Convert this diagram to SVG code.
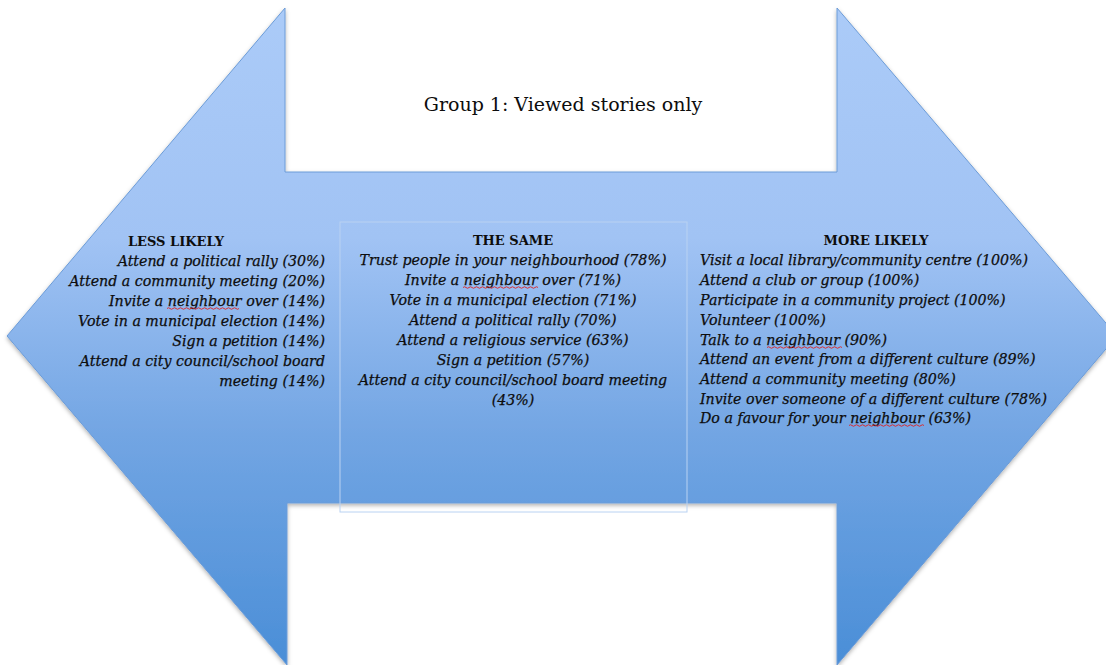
<svg xmlns="http://www.w3.org/2000/svg" width="1106" height="665" viewBox="0 0 1106 665">
  <style>
    .t { font-family: "DejaVu Serif", "Liberation Serif", serif; fill: #0d0d0d; }
    .it { font-style: italic; font-size: 14.2px; stroke: #0d0d0d; stroke-width: 0.25; }
    .hd { font-weight: bold; font-size: 13px; }
    .title { font-size: 19px; }
    .sq { fill: none; stroke: #e02020; stroke-width: 0.9; }
  </style>
  <defs>
    <linearGradient id="g" x1="0" y1="8" x2="0" y2="665" gradientUnits="userSpaceOnUse">
      <stop offset="0" stop-color="#abcbf8"/>
      <stop offset="0.35" stop-color="#a1c3f4"/>
      <stop offset="0.65" stop-color="#72a5e3"/>
      <stop offset="1" stop-color="#4a8ed7"/>
    </linearGradient>
    <filter id="sh" x="-5%" y="-5%" width="110%" height="110%">
      <feDropShadow dx="0" dy="2" stdDeviation="2" flood-color="#000" flood-opacity="0.3"/>
    </filter>
  </defs>
  <rect width="1106" height="665" fill="#ffffff"/>

  <g id="arrow">
    <path d="M285,8 L285,172 L837,172 L837,8 L1117,336 L837,665 L837,503 L287,503 L287,665 L7,336 Z" fill="url(#g)" stroke="#6c9cd8" stroke-width="1" filter="url(#sh)"/>
  </g>

  <g id="title">
    <text class="t title" x="563" y="111" text-anchor="middle">Group 1: Viewed stories only</text>
  </g>

  <g id="less-likely">
    <text class="t hd" x="176" y="246" text-anchor="middle">LESS LIKELY</text>
    <g class="t it" text-anchor="end">
      <text x="325" y="266">Attend a political rally (30%)</text>
      <text x="325" y="286">Attend a community meeting (20%)</text>
      <text x="325" y="306">Invite a neighbour over (14%)</text>
      <text x="325" y="326">Vote in a municipal election (14%)</text>
      <text x="325" y="346">Sign a petition (14%)</text>
      <text x="325" y="366">Attend a city council/school board</text>
      <text x="325" y="386">meeting (14%)</text>
    </g>
    <path class="sq" d="M167,308.5 q1.5,-1.5 3,0 t3,0 t3,0 t3,0 t3,0 t3,0 t3,0 t3,0 t3,0 t3,0 t3,0 t3,0 t3,0 t3,0 t3,0 t3,0 t3,0 t3,0 t3,0 t3,0 t3,0 t3,0 t3,0 t3,0"/>
  </g>

  <g id="the-same">
    <rect x="340" y="222" width="347" height="290" fill="none" stroke="#b9d2f2" stroke-width="1"/>
    <text class="t hd" x="513" y="245" text-anchor="middle">THE SAME</text>
    <g class="t it" text-anchor="middle">
      <text x="513" y="265">Trust people in your neighbourhood (78%)</text>
      <text x="513" y="285">Invite a neighbour over (71%)</text>
      <text x="513" y="305">Vote in a municipal election (71%)</text>
      <text x="513" y="325">Attend a political rally (70%)</text>
      <text x="513" y="345">Attend a religious service (63%)</text>
      <text x="513" y="365">Sign a petition (57%)</text>
      <text x="513" y="385">Attend a city council/school board meeting</text>
      <text x="513" y="405">(43%)</text>
    </g>
    <path class="sq" d="M463,287.5 q1.5,-1.5 3,0 t3,0 t3,0 t3,0 t3,0 t3,0 t3,0 t3,0 t3,0 t3,0 t3,0 t3,0 t3,0 t3,0 t3,0 t3,0 t3,0 t3,0 t3,0 t3,0 t3,0 t3,0 t3,0 t3,0 t3,0"/>
  </g>

  <g id="more-likely">
    <text class="t hd" x="876" y="245" text-anchor="middle">MORE LIKELY</text>
    <g class="t it">
      <text x="700" y="265">Visit a local library/community centre (100%)</text>
      <text x="700" y="285">Attend a club or group (100%)</text>
      <text x="700" y="305">Participate in a community project (100%)</text>
      <text x="700" y="325">Volunteer (100%)</text>
      <text x="700" y="345">Talk to a neighbour (90%)</text>
      <text x="700" y="364">Attend an event from a different culture (89%)</text>
      <text x="700" y="384">Attend a community meeting (80%)</text>
      <text x="700" y="404">Invite over someone of a different culture (78%)</text>
      <text x="700" y="423">Do a favour for your neighbour (63%)</text>
    </g>
    <path class="sq" d="M767,347.5 q1.5,-1.5 3,0 t3,0 t3,0 t3,0 t3,0 t3,0 t3,0 t3,0 t3,0 t3,0 t3,0 t3,0 t3,0 t3,0 t3,0 t3,0 t3,0 t3,0 t3,0 t3,0 t3,0 t3,0 t3,0 t3,0 t3,0"/>
    <path class="sq" d="M849,425.5 q1.5,-1.5 3,0 t3,0 t3,0 t3,0 t3,0 t3,0 t3,0 t3,0 t3,0 t3,0 t3,0 t3,0 t3,0 t3,0 t3,0 t3,0 t3,0 t3,0 t3,0 t3,0 t3,0 t3,0 t3,0 t3,0 t3,0"/>
  </g>
</svg>
